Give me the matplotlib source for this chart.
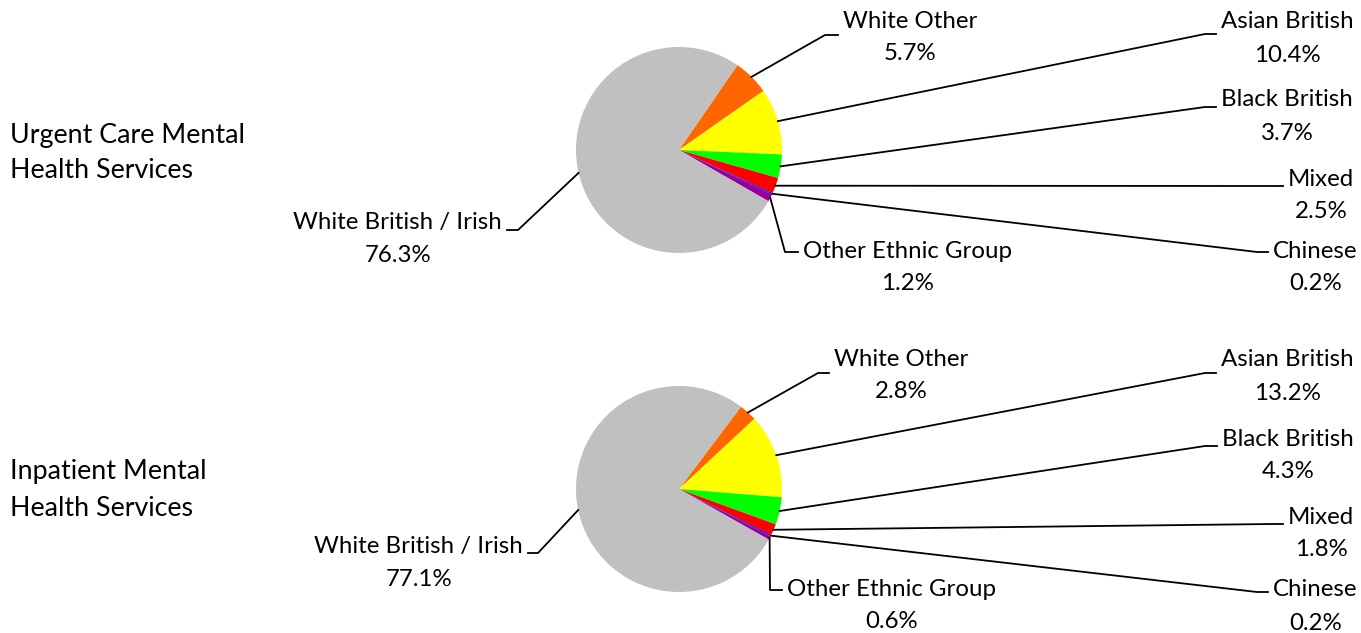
import numpy as np
import matplotlib.pyplot as plt

# data
categories = ["White Other", "Asian British", "Black British", "Mixed",
              "Chinese", "Other Ethnic Group", "White British / Irish"]
urgent = [5.7, 10.4, 3.7, 2.5, 0.2, 1.2, 76.3]
inpatient = [2.8, 13.2, 4.3, 1.8, 0.2, 0.6, 77.1]
colours = ['#FF6600', '#FFFF00', '#00FF00', '#FF0000', '#0000FF', '#990099', '#C0C0C0']
titles = [["Urgent Care Mental", "Health Services"],
          ["Inpatient Mental", "Health Services"]]

# layout (pixels, y from top)
W, H = 1361, 633
centers = [(679, 150), (679, 489)]
starts = [55.5, 53.0]
title_y = [(135, 170), (472, 508)]
# (elbow x, elbow y, end x, name y, side)
leaders = [
    [(825, 35, 838, 21, 'r'), (1205, 34, 1216, 22, 'r'), (1205, 107, 1216, 100, 'r'),
     (1273, 186, 1283, 179, 'r'), (1257, 252, 1268, 251, 'r'), (785, 252, 798, 251, 'r'),
     (518, 230, 507, 222, 'l')],
    [(818, 373, 829, 359, 'r'), (1205, 373, 1216, 360, 'r'), (1205, 446, 1217, 439, 'r'),
     (1273, 524, 1283, 517, 'r'), (1257, 592, 1268, 590, 'r'), (770, 590, 782, 589, 'r'),
     (538, 553, 528, 547, 'l')],
]

plt.rcParams['font.family'] = ['Lato', 'DejaVu Sans']
fs = 17.3
fig = plt.figure(figsize=(W / 100, H / 100), dpi=100)

size = 257.5
pie_axes = []
all_wedges = []
for i, vals in enumerate([urgent, inpatient]):
    cx, cy = centers[i]
    ax = fig.add_axes([(cx - size / 2) / W, (H - cy - size / 2) / H, size / W, size / H])
    wedges, _ = ax.pie(vals, colors=colours, startangle=starts[i], counterclock=False, radius=1)
    ax.set_xlim(-1.25, 1.25)
    ax.set_ylim(-1.25, 1.25)
    pie_axes.append(ax)
    all_wedges.append(wedges)

ov = fig.add_axes([0, 0, 1, 1], zorder=5)
ov.set_xlim(0, W)
ov.set_ylim(H, 0)
ov.axis('off')

renderer = fig.canvas.get_renderer()
for i, vals in enumerate([urgent, inpatient]):
    ax = pie_axes[i]
    for w, name, v, (elx, ely, endx, ny, side) in zip(all_wedges[i], categories, vals, leaders[i]):
        mid = np.deg2rad((w.theta1 + w.theta2) / 2)
        p = ax.transData.transform((w.center[0] + w.r * np.cos(mid), w.center[1] + w.r * np.sin(mid)))
        ex, ey = ov.transData.inverted().transform(p)
        ov.plot([ex, elx, endx], [ey, ely, ely], color='black', lw=1.3)
        if side == 'r':
            t = ov.text(endx + 5, ny, name, ha='left', va='center', fontsize=fs)
            bw = t.get_window_extent(renderer).width
            tx = endx + 5 + bw / 2
        else:
            t = ov.text(endx - 5, ny, name, ha='right', va='center', fontsize=fs)
            bw = t.get_window_extent(renderer).width
            tx = endx - 5 - bw / 2
        ov.text(tx, ny + 33, f"{v}%", ha='center', va='center', fontsize=fs)
    for line, y in zip(titles[i], title_y[i]):
        ov.text(10, y, line, ha='left', va='center', fontsize=19.3)

fig.savefig("out.png", dpi=100, facecolor='white')
